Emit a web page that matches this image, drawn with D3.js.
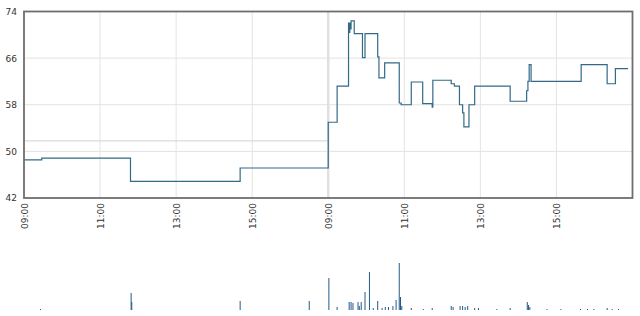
<!DOCTYPE html>
<html><head><meta charset="utf-8">
<script src="https://cdn.jsdelivr.net/npm/d3@7"></script>
<style>html,body{margin:0;padding:0;background:#fff;}svg{display:block;}</style>
</head><body><svg id="c" width="640" height="316"></svg>
<script>
// ---- data ----
const priceTimes = ["1 09:00","1 09:28","1 11:48","1 14:41",
 "2 09:00","2 09:14","2 09:32","2 09:33","2 09:34","2 09:35","2 09:36","2 09:41","2 09:54","2 09:58",
 "2 10:18","2 10:20","2 10:29","2 10:52","2 10:55","2 11:11","2 11:29","2 11:44","2 11:45",
 "2 12:14","2 12:19","2 12:27","2 12:32","2 12:34","2 12:42","2 12:51","2 13:47","2 14:13","2 14:15",
 "2 14:17","2 14:20","2 15:39","2 16:20","2 16:33","2 16:53"];
const priceValues = [48.55,48.85,44.85,47.15,
 55.0,61.2,72.0,70.4,72.0,71.0,72.4,70.2,66.1,70.2,
 66.2,62.6,65.2,58.3,58.0,61.9,58.2,57.6,62.2,
 61.6,61.2,58.0,56.6,54.2,58.0,61.2,58.6,60.4,62.0,
 64.9,62.0,64.9,61.6,64.2,64.2];
const prevClose = 51.8;
const volTimes = ["1 09:26","1 11:49","1 11:50","1 14:41","1 16:30",
 "2 09:01","2 09:14","2 09:33","2 09:36","2 09:39","2 09:47","2 09:49","2 09:52","2 09:58","2 10:05",
 "2 10:11","2 10:18","2 10:25","2 10:30","2 10:35","2 10:42","2 10:47","2 10:52","2 10:54","2 10:56",
 "2 11:11","2 11:30","2 11:44","2 12:14","2 12:17","2 12:28","2 12:32","2 12:36","2 12:40","2 12:51",
 "2 12:57","2 13:26","2 13:47","2 14:14","2 14:16","2 14:18","2 14:45","2 15:07","2 15:38","2 15:49",
 "2 15:59","2 16:20","2 16:28","2 16:38"];
const volValues = [1,17,8,9,9,
 32,3,8,8,7,8,4,8,18,38,
 2,9,2,3,3,4,10,47,13,4,
 2,1,2,4,3,4,4,3,4,2,
 2,1,2,8,5,3,1,1,1,1,
 1,2,1,1];
const xTickMinutes = [0,120,240,360,480,600,720,840];
const xTickLabels = ["09:00","11:00","13:00","15:00","09:00","11:00","13:00","15:00"];
const yTicks = [42,50,58,66,74];

// ---- helpers ----
function toMin(s){const [d,t]=s.split(" ");const [h,m]=t.split(":").map(Number);return (d-1)*480+(h-9)*60+m;}

const svg = d3.select("#c");
const L=24, R=632.5, T=11.5, B=198;
const x = d3.scaleLinear().domain([0,960]).range([L,R]);
const y = d3.scaleLinear().domain([42,74]).range([B,T]);
const yv = d3.scaleLinear().domain([0,47]).range([310,263]);

// grid
svg.append("g").selectAll("line").data(yTicks.slice(1,-1)).join("line")
 .attr("x1",L).attr("x2",R).attr("y1",d=>y(d)).attr("y2",d=>y(d))
 .attr("stroke","#e2e2e2").attr("stroke-width",1);
svg.append("g").selectAll("line").data(xTickMinutes.slice(1)).join("line")
 .attr("x1",d=>x(d)).attr("x2",d=>x(d)).attr("y1",T).attr("y2",B)
 .attr("stroke",d=>d===480?"#e0e0e0":"#e4e4e4").attr("stroke-width",d=>d===480?2.5:1);
// previous close reference
svg.append("line").attr("x1",x(0)).attr("x2",x(480)).attr("y1",y(prevClose)).attr("y2",y(prevClose))
 .attr("stroke","#d2d2d2").attr("stroke-width",1);

// price line
const pts = priceTimes.map((t,i)=>({m:toMin(t),v:priceValues[i]}));
pts.splice(4,0,{m:480,v:priceValues[3]});
svg.append("path").datum(pts)
 .attr("d",d3.line().x(d=>x(d.m)).y(d=>y(d.v)).curve(d3.curveStepAfter))
 .attr("fill","none").attr("stroke","#336a88").attr("stroke-width",1.2);

// frame
svg.append("rect").attr("x",L).attr("y",T).attr("width",R-L).attr("height",B-T)
 .attr("fill","none").attr("stroke","#6e6e6e").attr("stroke-width",1.8);

// y axis
const ya = svg.append("g").attr("transform",`translate(${L},0)`)
 .call(d3.axisLeft(y).tickValues(yTicks).tickSize(0).tickPadding(7).tickFormat(d3.format("d")));
ya.select(".domain").remove();
ya.selectAll("text").attr("font-family","'DejaVu Sans',Verdana,sans-serif").attr("font-size",9).attr("fill","#333");

// x axis
const xa = svg.append("g").attr("transform",`translate(0,${B})`)
 .call(d3.axisBottom(x).tickValues(xTickMinutes).tickSize(0).tickFormat((d,i)=>xTickLabels[i]));
xa.select(".domain").remove();
xa.selectAll("text").attr("font-family","'DejaVu Sans',Verdana,sans-serif").attr("font-size",9).attr("fill","#333")
 .attr("transform","rotate(-90)").attr("text-anchor","end").attr("x",-5).attr("y",0).attr("dy","0.35em");

// volume bars
svg.append("g").selectAll("rect").data(volTimes.map((t,i)=>({m:toMin(t),v:volValues[i]}))).join("rect")
 .attr("x",d=>x(d.m)-0.5).attr("width",1).attr("y",d=>yv(d.v)).attr("height",d=>yv(0)-yv(d.v))
 .attr("fill","#235a8c");
</script></body></html>
